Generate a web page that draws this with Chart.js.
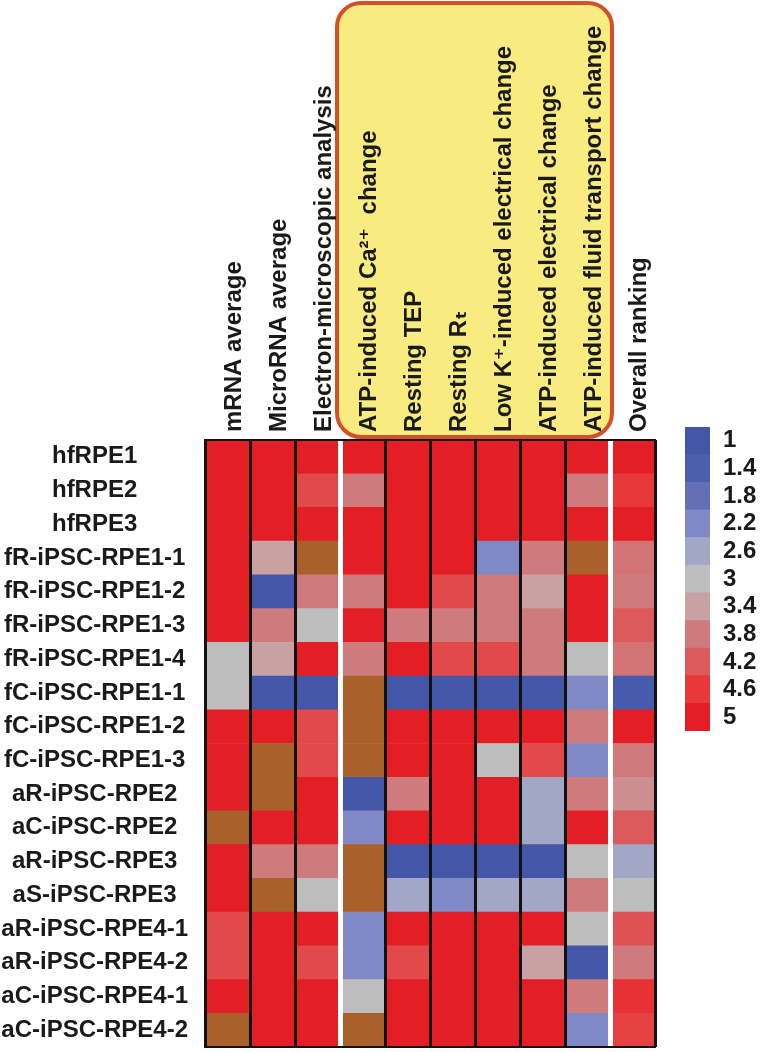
<!DOCTYPE html>
<html>
<head>
<meta charset="utf-8">
<script src="https://cdn.jsdelivr.net/npm/chart.js@4/dist/chart.umd.min.js"></script>
<style>
  body { margin: 0; background: #fff; }
  #wrap { position: relative; width: 761px; height: 1052px; }
  #heat { position: absolute; left: 0; top: 0; }
  #scale { position: absolute; left: 685px; top: 427px; }
</style>
</head>
<body>
<div id="wrap">
  <canvas id="heat" width="761" height="1052"></canvas>
  <canvas id="scale" width="76" height="304"></canvas>
</div>
<script>
const rowLabels = ['hfRPE1', 'hfRPE2', 'hfRPE3', 'fR-iPSC-RPE1-1', 'fR-iPSC-RPE1-2', 'fR-iPSC-RPE1-3',
    'fR-iPSC-RPE1-4', 'fC-iPSC-RPE1-1', 'fC-iPSC-RPE1-2', 'fC-iPSC-RPE1-3', 'aR-iPSC-RPE2', 'aC-iPSC-RPE2',
    'aR-iPSC-RPE3', 'aS-iPSC-RPE3', 'aR-iPSC-RPE4-1', 'aR-iPSC-RPE4-2', 'aC-iPSC-RPE4-1', 'aC-iPSC-RPE4-2'];

const columnLabels = ['mRNA average', 'MicroRNA average', 'Electron-microscopic analysis',
    'ATP-induced Ca²⁺  change', 'Resting TEP', 'Resting Rₜ', 'Low K⁺-induced electrical change',
    'ATP-induced electrical change', 'ATP-induced fluid transport change', 'Overall ranking'];

// one array per column, one value per row (null = not measured)
const mrnaAverage      = [5, 5, 5, 5, 5, 5, 3, 3, 5, 5, 5, null, 5, 5, 4.4, 4.4, 5, null];
const microRnaAverage  = [5, 5, 5, 3.4, 1, 3.8, 3.4, 1, 5, null, null, 5, 3.8, null, 5, 5, 5, 5];
const electronMicro    = [5, 4.4, 5, null, 3.8, 3, 5, 1, 4.4, 4.4, 5, 5, 3.8, 3, 5, 4.4, 5, 5];
const atpCalcium       = [5, 3.8, 5, 5, 3.8, 5, 3.8, null, null, null, 1, 2.2, null, null, 2.2, 2.2, 3, null];
const restingTep       = [5, 5, 5, 5, 5, 3.8, 5, 1, 5, 5, 3.8, 5, 1, 2.6, 5, 4.4, 5, 5];
const restingRt        = [5, 5, 5, 5, 4.4, 3.8, 4.4, 1, 5, 5, 5, 5, 1, 2.2, 5, 5, 5, 5];
const lowKElectrical   = [5, 5, 5, 2.2, 3.8, 3.8, 4.4, 1, 5, 3, 5, 5, 1, 2.6, 5, 5, 5, 5];
const atpElectrical    = [5, 5, 5, 3.8, 3.4, 3.8, 3.8, 1, 5, 4.4, 2.6, 2.6, 1, 2.6, 5, 3.4, 5, 5];
const atpFluid         = [5, 3.8, 5, null, 5, 5, 3, 2.2, 3.8, 2.2, 3.8, 5, 3, 3.8, 3, 1, 3.8, 2.2];
const overallRanking   = [5, 4.6, 5, 3.9, 3.8, 4.2, 3.9, 1.2, 5, 3.8, 3.6, 4.2, 2.6, 3, 4.3, 3.8, 4.7, 4.5];

const columns = [mrnaAverage, microRnaAverage, electronMicro, atpCalcium, restingTep,
    restingRt, lowKElectrical, atpElectrical, atpFluid, overallRanking];

const scaleTicks  = [1, 1.4, 1.8, 2.2, 2.6, 3, 3.4, 3.8, 4.2, 4.6, 5];
const scaleColors = ['#4356a8', '#4c5eae', '#6370b8', '#8088c6', '#a2a7c8', '#bebdbd',
    '#c8a2a3', '#cf7b7e', '#dc5a5c', '#e8383a', '#e41e25'];
const missingColor = '#a9602b';

const FONT = "'Liberation Sans', Arial, 'DejaVu Sans', sans-serif";

function hexToRgb(h) {
    return [parseInt(h.slice(1, 3), 16), parseInt(h.slice(3, 5), 16), parseInt(h.slice(5, 7), 16)];
}

function cellColor(v) {
    if (v === null) return missingColor;
    let i = 0;
    while (i < scaleTicks.length - 2 && v > scaleTicks[i + 1]) i++;
    const t = Math.min(1, Math.max(0, (v - scaleTicks[i]) / (scaleTicks[i + 1] - scaleTicks[i])));
    const a = hexToRgb(scaleColors[i]), b = hexToRgb(scaleColors[i + 1]);
    const c = a.map((x, k) => Math.round(x + (b[k] - x) * t));
    return `rgb(${c[0]},${c[1]},${c[2]})`;
}

// drop the half-label padding Chart.js keeps above/below a vertical category axis
function noEndPadding(s) {
    s.paddingTop = 0;
    s.paddingBottom = 0;
}

// yellow rounded box behind the functional-assay headers, plus the frame round the map
const decorPlugin = {
    id: 'decor',
    beforeDraw(chart) {
        const { ctx, chartArea, scales } = chart;
        const left = scales.xg.getPixelForValue(3) - 3;
        const right = scales.xg.getPixelForValue(9) + 2;
        const top = 3, bottom = chartArea.top - 3;
        ctx.save();
        ctx.beginPath();
        ctx.roundRect(left, top, right - left, bottom - top, 24);
        ctx.fillStyle = '#f8ec80';
        ctx.fill();
        ctx.lineWidth = 4;
        ctx.strokeStyle = '#d4502a';
        ctx.stroke();
        ctx.restore();
    },
    afterDraw(chart) {
        const { ctx, chartArea } = chart;
        ctx.save();
        ctx.lineWidth = 2;
        ctx.strokeStyle = '#111';
        ctx.strokeRect(chartArea.left, chartArea.top, chartArea.right - chartArea.left, chartArea.bottom - chartArea.top);
        ctx.restore();
    }
};

const separators = [3, 9];

new Chart(document.getElementById('heat'), {
    type: 'bar',
    data: {
        labels: rowLabels,
        datasets: columns.map((vals, c) => ({
            label: columnLabels[c],
            xAxisID: 'xg',
            data: vals.map(() => [c, c + 1]),
            backgroundColor: vals.map(cellColor),
            borderWidth: 0,
            barPercentage: 1,
            categoryPercentage: 1,
            grouped: false
        }))
    },
    options: {
        indexAxis: 'y',
        responsive: false,
        animation: false,
        layout: { padding: { left: 2, right: 106, top: 0, bottom: 5 } },
        plugins: { legend: { display: false }, tooltip: { enabled: false } },
        scales: {
            // header axis: shifted so the rotated text sits over its column
            x: {
                type: 'linear',
                position: 'top',
                min: -0.8,
                max: 9.2,
                afterBuildTicks: s => { s.ticks = columnLabels.map((l, i) => ({ value: i + 0.5 })); },
                afterFit: s => { s.height = 440; },
                ticks: {
                    autoSkip: false,
                    minRotation: 90,
                    maxRotation: 90,
                    padding: 8,
                    color: '#1a1a1a',
                    font: { family: FONT, size: 24, weight: 'bold' },
                    callback: (v, i) => columnLabels[i]
                },
                grid: { display: false, drawTicks: false },
                border: { display: false }
            },
            xg: {
                type: 'linear',
                position: 'bottom',
                min: 0,
                max: 10,
                afterBuildTicks: s => { s.ticks = [0, 1, 2, 3, 4, 5, 6, 7, 8, 9, 10].map(v => ({ value: v })); },
                afterFit: s => { s.height = 0; },
                ticks: { display: false },
                grid: {
                    z: 1,
                    drawTicks: false,
                    color: ctx => separators.includes(ctx.tick.value) ? '#ffffff' : '#111111',
                    lineWidth: ctx => separators.includes(ctx.tick.value) ? 5 : 3
                },
                border: { display: false }
            },
            y: {
                type: 'category',
                position: 'left',
                afterFit: s => { s.width = 203; noEndPadding(s); },
                ticks: {
                    autoSkip: false,
                    crossAlign: 'center',
                    padding: 17,
                    color: '#1a1a1a',
                    font: { family: FONT, size: 24, weight: 'bold' }
                },
                grid: { display: false, drawTicks: false },
                border: { display: false }
            }
        }
    },
    plugins: [decorPlugin]
});

// colour key
new Chart(document.getElementById('scale'), {
    type: 'bar',
    data: {
        labels: scaleTicks.map(String),
        datasets: [{
            data: scaleTicks.map(() => [0, 1]),
            backgroundColor: scaleColors,
            borderWidth: 0,
            barPercentage: 1,
            categoryPercentage: 1
        }]
    },
    options: {
        indexAxis: 'y',
        responsive: false,
        animation: false,
        layout: { padding: 0 },
        plugins: { legend: { display: false }, tooltip: { enabled: false } },
        scales: {
            x: { min: 0, max: 1, display: false },
            y: {
                position: 'right',
                afterFit: s => { s.width = 51; noEndPadding(s); },
                ticks: {
                    autoSkip: false,
                    padding: 13,
                    color: '#1a1a1a',
                    font: { family: FONT, size: 24, weight: 'bold' }
                },
                grid: { display: false, drawTicks: false },
                border: { display: false }
            }
        }
    }
});
</script>
</body>
</html>
